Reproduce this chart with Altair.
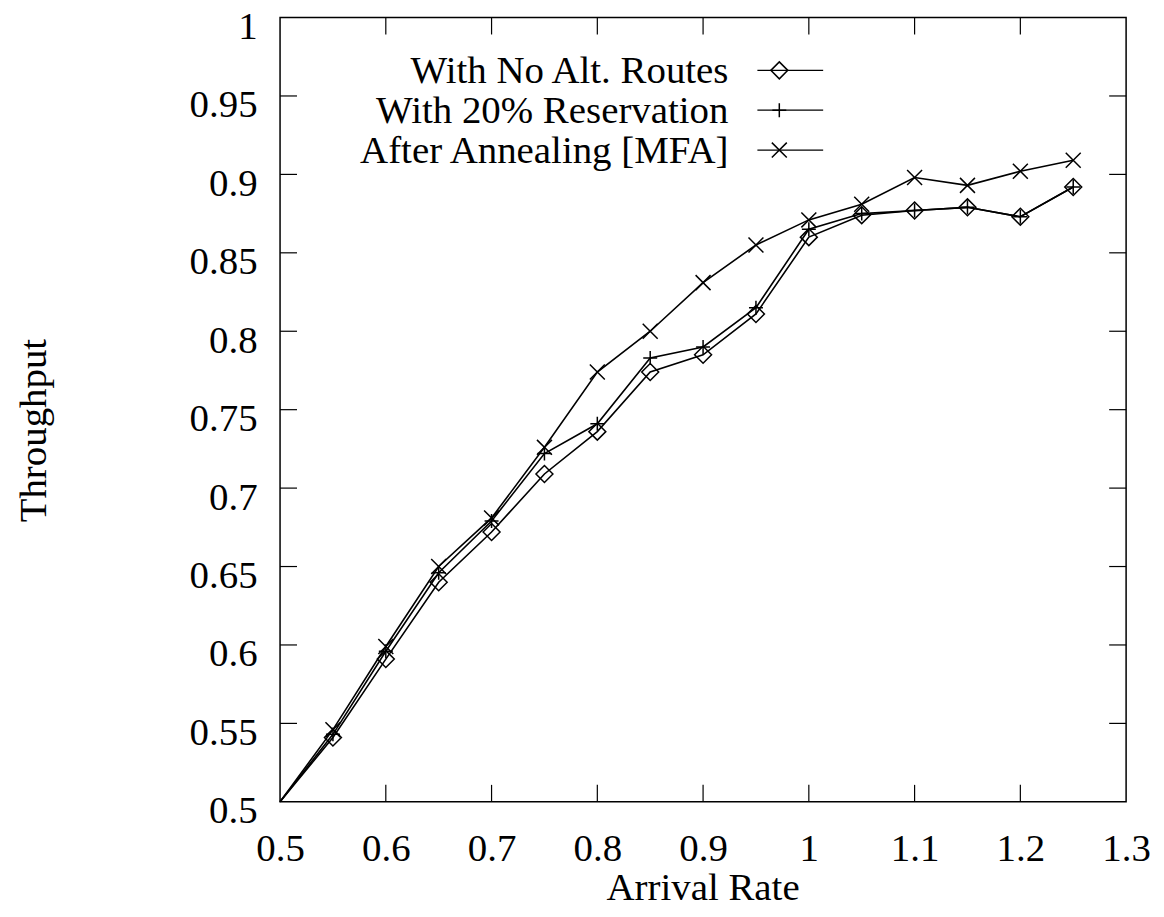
import altair as alt
import pandas as pd

# ---- data ----
arrival = [0.5, 0.55, 0.6, 0.65, 0.7, 0.75, 0.8, 0.85, 0.9, 0.95, 1.0, 1.05, 1.1, 1.15, 1.2, 1.25]
no_alt = [0.5, 0.541, 0.591, 0.640, 0.672, 0.709, 0.736, 0.774, 0.785, 0.811, 0.860, 0.874, 0.877, 0.879, 0.873, 0.892]
res20 = [0.5, 0.543, 0.596, 0.646, 0.679, 0.722, 0.741, 0.783, 0.790, 0.815, 0.865, 0.875, 0.877, 0.879, 0.873, 0.892]
mfa = [0.5, 0.546, 0.599, 0.650, 0.681, 0.726, 0.774, 0.800, 0.831, 0.855, 0.871, 0.881, 0.898, 0.893, 0.902, 0.909]

series_names = ["With No Alt. Routes", "With 20% Reservation", "After Annealing [MFA]"]
x_ticks = [0.5, 0.6, 0.7, 0.8, 0.9, 1.0, 1.1, 1.2, 1.3]
y_ticks = [0.5, 0.55, 0.6, 0.65, 0.7, 0.75, 0.8, 0.85, 0.9, 0.95, 1.0]

FONT = "'Liberation Serif', 'Times New Roman', Times, serif"
W, H = 849, 787
FS = 39

rows = []
for name, vals in zip(series_names, [no_alt, res20, mfa]):
    for xv, yv in zip(arrival, vals):
        rows.append({"series": name, "x": xv, "y": yv})
df = pd.DataFrame(rows)

DIAMOND = "M0,-1L1,0L0,1L-1,0Z"
PLUS = "M-1,0L1,0M0,-1L0,1"
CROSS = "M-1,-1L1,1M-1,1L1,-1"
shapes = {series_names[0]: (DIAMOND, 289), series_names[1]: (PLUS, 196), series_names[2]: (CROSS, 225)}

xscale = alt.Scale(domain=[0.5, 1.3], nice=False, zero=False)
yscale = alt.Scale(domain=[0.5, 1.0], nice=False, zero=False)

xaxis = alt.Axis(values=x_ticks, format=".2~f", ticks=False, tickSize=0, domain=False, grid=False,
                 labelFont=FONT, labelFontSize=FS, labelColor="black", labelPadding=59,
                 labelBaseline="alphabetic", labelFlush=False, labelOverlap=False,
                 title="Arrival Rate", titleFont=FONT, titleFontSize=FS, titleFontWeight="normal",
                 titleColor="black", titleX=424, titleY=98, titleBaseline="alphabetic", titleAlign="center")
yaxis = alt.Axis(values=y_ticks, format=".2~f", ticks=False, tickSize=0, domain=False, grid=False,
                 labelFont=FONT, labelFontSize=FS, labelColor="black", labelPadding=23,
                 labelOffset=9, labelBaseline="middle", labelFlush=False, labelOverlap=False,
                 title="Throughput", titleFont=FONT, titleFontSize=FS, titleFontWeight="normal",
                 titleColor="black", titleX=-235, titleY=414, titleAngle=-90,
                 titleBaseline="alphabetic", titleAlign="center")

base = alt.Chart(df)
lines = base.mark_line(color="black", strokeWidth=1.6).encode(
    x=alt.X("x:Q", scale=xscale, axis=xaxis),
    y=alt.Y("y:Q", scale=yscale, axis=yaxis),
    detail="series:N",
)

layers = [lines]
for name in series_names:
    path, size = shapes[name]
    layers.append(
        base.transform_filter((alt.datum.series == name) & (alt.datum.x > 0.5))
        .mark_point(shape=path, size=size, filled=False, stroke="black", strokeWidth=1.5, opacity=1)
        .encode(x=alt.X("x:Q", scale=xscale), y=alt.Y("y:Q", scale=yscale))
    )

# inward ticks on all four sides
xt = pd.DataFrame({"v": x_ticks[1:-1]})
yt = pd.DataFrame({"v": y_ticks[1:-1]})
TL = 17
layers.append(alt.Chart(xt).mark_rule(color="black", strokeWidth=1.2).encode(
    x=alt.X("v:Q", scale=xscale), y=alt.value(H), y2=alt.value(H - TL)))
layers.append(alt.Chart(xt).mark_rule(color="black", strokeWidth=1.2).encode(
    x=alt.X("v:Q", scale=xscale), y=alt.value(0), y2=alt.value(TL)))
layers.append(alt.Chart(yt).mark_rule(color="black", strokeWidth=1.2).encode(
    y=alt.Y("v:Q", scale=yscale), x=alt.value(0), x2=alt.value(TL)))
layers.append(alt.Chart(yt).mark_rule(color="black", strokeWidth=1.2).encode(
    y=alt.Y("v:Q", scale=yscale), x=alt.value(W), x2=alt.value(W - TL)))

# legend (labels left of symbols)
leg_df = pd.DataFrame({"series": series_names})
leg_base_y = [66, 106, 146]
for name, by in zip(series_names, leg_base_y):
    path, size = shapes[name]
    lb = alt.Chart(leg_df).transform_filter(alt.datum.series == name)
    layers.append(lb.mark_text(align="right", baseline="alphabetic", font=FONT, fontSize=FS, color="black")
                  .encode(x=alt.value(450), y=alt.value(by), text="series:N"))
    layers.append(lb.mark_rule(color="black", strokeWidth=1.2)
                  .encode(x=alt.value(479), x2=alt.value(545), y=alt.value(by - 13)))
    layers.append(lb.mark_point(shape=path, size=size, filled=False, stroke="black", strokeWidth=1.5, opacity=1)
                  .encode(x=alt.value(501), y=alt.value(by - 13)))

chart = alt.layer(*layers).properties(
    width=W, height=H,
    autosize=alt.AutoSizeParams(type="none"),
    padding={"left": 273, "top": 8, "right": 30, "bottom": 110},
    background="white",
).configure_view(stroke="black", strokeWidth=1.5)

chart.save("out.html", embed_options={"renderer": "svg", "actions": False})
